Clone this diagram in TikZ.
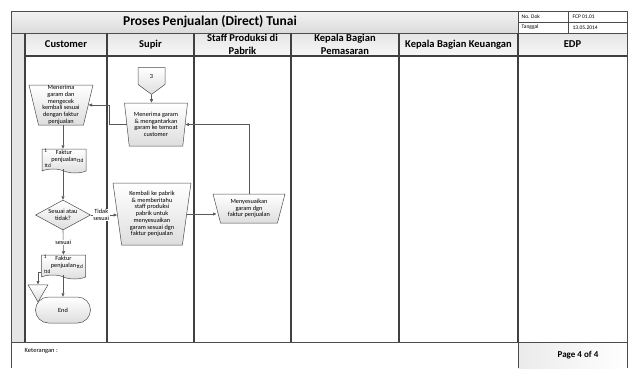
\documentclass[tikz,border=0pt]{standalone}
\usepackage{fontspec}
\setmainfont{Carlito}
\usetikzlibrary{arrows.meta, positioning, calc, shapes.geometric, shapes.symbols}

\begin{document}
\begin{tikzpicture}[x=1pt, y=-1pt, >={Triangle[length=3.5pt,width=3pt]},
  every node/.style={font=\fontsize{6.3}{6.7}\selectfont, inner sep=0.5pt, align=center},
  frame/.style={draw=black!70, line width=0.9pt},
  lane/.style={draw=black!75, line width=1.1pt},
  flow/.style={->, draw=black!65, line width=0.6pt},
  shapefill/.style={draw=black!70, line width=0.5pt, top color=white, bottom color=black!13},
  manop/.style={shapefill, trapezium, trapezium stretches body, shape border rotate=180},
  docu/.style={shapefill, tape, tape bend top=none, tape bend bottom=out and in, tape bend height=4pt, minimum width=44, minimum height=24},
  decision/.style={shapefill, diamond, aspect=1.83, inner sep=0pt, minimum width=55, minimum height=30},
  term/.style={shapefill, rectangle, rounded corners=13pt, minimum width=55, minimum height=26},
  merge/.style={shapefill, regular polygon, regular polygon sides=3, shape border rotate=180, minimum size=23, inner sep=0pt},
  offpage/.style={shapefill, signal, signal to=south, signal pointer angle=107, minimum width=27, minimum height=18, inner sep=0pt},
  head/.style={font=\bfseries\fontsize{10.5}{12.5}\selectfont},
  smalltxt/.style={font=\fontsize{5.5}{6}\selectfont, anchor=west},
  tinytxt/.style={font=\fontsize{5.3}{6}\selectfont}]
  \useasboundingbox (0,0) rectangle (630,368);

  % backgrounds
  \fill[top color=black!5, bottom color=black!14] (11,11) rectangle (518,33);
  \fill[top color=black!10, bottom color=black!3] (25,33) rectangle (627,56);
  \fill[black!10] (11,33) rectangle (25,342);
  \fill[left color=black!8, right color=white] (518,342) rectangle (627,368);

  % frame and lanes
  \draw[frame] (11,368) -- (11,11) -- (627,11) -- (627,368);
  \draw[frame] (11,33) -- (627,33);
  \draw[frame] (518,22) -- (627,22);
  \draw[frame] (568,11) -- (568,33);
  \draw[frame] (518,11) -- (518,33);
  \draw[lane] (25,56) -- (627,56);
  \foreach \x in {25,107,194,291,399,518}
    \draw[lane] (\x,33) -- (\x,342);
  \draw[frame] (11,342) -- (627,342);
  \draw[frame] (518,342) -- (518,368);

  % title block
  \node[font=\bfseries\fontsize{13.5}{15}\selectfont] (title) at (210,22) {Proses Penjualan (Direct) Tunai};
  \node[smalltxt] (nodok) at (521,16.5) {No. Dok};
  \node[smalltxt] (nodokval) at (572,16.5) {FCP 01.01};
  \node[smalltxt] (tgl) at (521,27.5) {Tanggal};
  \node[smalltxt] (tglval) at (572,27.5) {13.05.2014};

  % lane headers
  \node[head] (hcust) at (66,44.5) {Customer};
  \node[head] (hsupir) at (150.5,44.5) {Supir};
  \node[head] (hstaff) at (242.5,44.5) {Staff Produksi di\\Pabrik};
  \node[head] (hpemas) at (345,44.5) {Kepala Bagian\\Pemasaran};
  \node[head] (hkeu) at (458.5,44.5) {Kepala Bagian Keuangan};
  \node[head] (hedp) at (572.5,44.5) {EDP};

  % customer lane
  \node[manop, trapezium left angle=76.6, trapezium right angle=76.6, minimum width=64, minimum height=40] (cust1) at (61,105) {Menerima\\garam dan\\mengecek\\kembali sesuai\\dengan faktur\\penjualan};
  \node[docu] (doc1) at (64,159) {};
  \node (doc1txt) at ([yshift=3]doc1.center) {Faktur\\penjualan};
  \node[tinytxt] (doc1no) at ([xshift=4,yshift=-2.5]doc1.north west) {1};
  \node[tinytxt] (doc1ttdr) at ([xshift=-6,yshift=-2]doc1.east) {ttd};
  \node[tinytxt] (doc1ttdl) at ([xshift=6,yshift=-7]doc1.west) {ttd};
  \node[decision] (dec) at (63,215) {Sesuai atau\\tidak?};
  \node[docu] (doc2) at (63.5,265) {};
  \node (doc2txt) at ([yshift=3]doc2.center) {Faktur\\penjualan};
  \node[tinytxt] (doc2no) at ([xshift=4,yshift=-2.5]doc2.north west) {1};
  \node[tinytxt] (doc2ttdr) at ([xshift=-6,yshift=-2]doc2.east) {ttd};
  \node[tinytxt] (doc2ttdl) at ([xshift=6,yshift=-7]doc2.west) {ttd};
  \node[merge] (merge) at (38,290.5) {};
  \node[term] (endn) at (63,310) {End};

  % supir lane
  \node[offpage] (con3) at (151.5,76) {3};
  \node[manop, trapezium left angle=79.5, trapezium right angle=79.5, minimum width=63, minimum height=43] (sup1) at (156,124.5) {Menerima garam\\\& mengantarkan\\garam ke temoat\\customer};
  \node[manop, trapezium left angle=79.5, trapezium right angle=79.5, minimum width=78, minimum height=62] (sup2) at (152,214) {Kembali ke pabrik\\\& memberitahu\\staff produksi\\pabrik untuk\\menyesuaikan\\garam sesuai dgn\\faktur penjualan};

  % staff produksi lane
  \node[manop, trapezium left angle=69.2, trapezium right angle=69.2, minimum width=72, minimum height=29] (stf1) at (249,208.5) {Menyesuaikan\\garam dgn\\faktur penjualan};

  % connectors
  \draw[flow] (dec.north |- cust1.south) -- (dec.north |- doc1.north);
  \draw[flow] (dec.north |- doc1.south) -- (dec.north);
  \draw[flow] (dec.south) -- (doc2.north) node[midway, fill=white] (lblyes) {sesuai};
  \draw[flow] (dec.east) -- (dec.east -| sup2.west) node[pos=0.4, fill=white] (lblno) {Tidak\\sesuai};
  \draw[flow] ([yshift=-7]doc2.west) -| (merge.north);
  \draw[flow] (dec.south |- doc2.south) -- (endn.north);
  \draw[flow] (con3.south) -- (con3.south |- sup1.north);
  \draw[flow] (sup1.west) -- ([xshift=-17]sup1.west) |- (cust1.east);
  \draw[flow] (stf1.north) |- (sup1.east);
  \draw[flow] (sup2.east) -- (sup2.east -| stf1.west);

  % footer
  \node[font=\fontsize{6.5}{7}\selectfont, anchor=west] (ket) at (24,351) {Keterangan :};
  \node[font=\bfseries\fontsize{9}{10}\selectfont] (page) at (578,355) {Page 4 of 4};
\end{tikzpicture}
\end{document}
